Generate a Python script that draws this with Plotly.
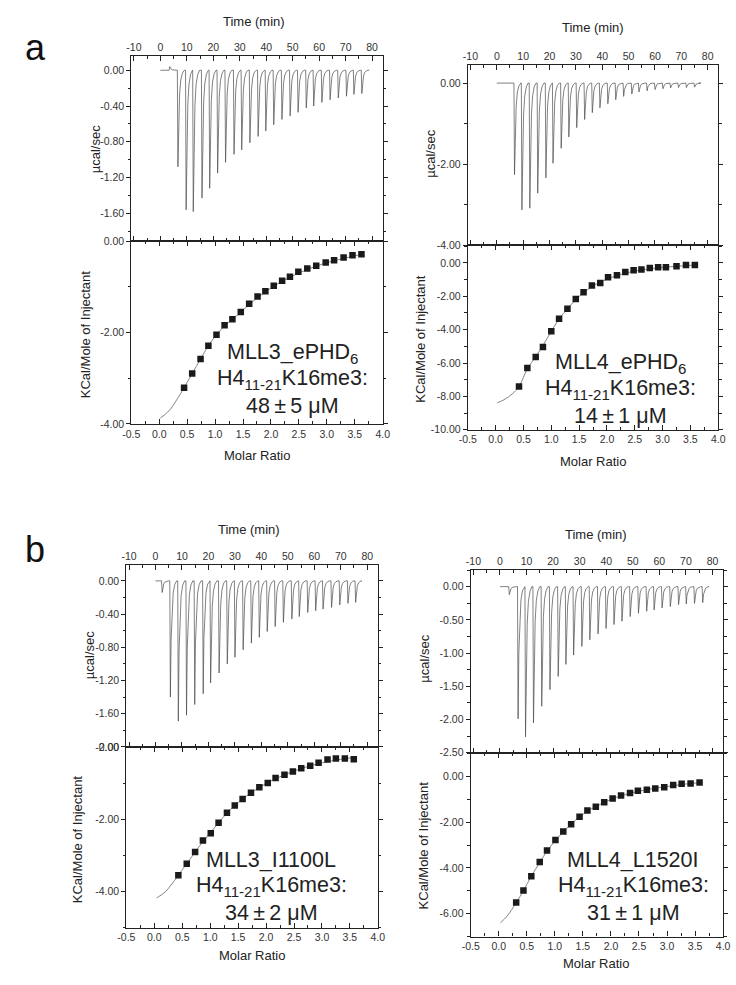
import plotly.graph_objects as go

W, H = 736, 985
FONT = "Liberation Sans, Arial, Helvetica, sans-serif"

# ---------------- data ----------------
TIME_TICKS = [-10, 0, 10, 20, 30, 40, 50, 60, 70, 80]
TIME_LABELS = [str(v) for v in TIME_TICKS]
RATIO_TICKS = [-0.5, 0.0, 0.5, 1.0, 1.5, 2.0, 2.5, 3.0, 3.5, 4.0]
RATIO_LABELS = [f"{v:.1f}" for v in RATIO_TICKS]

# Panel a, left: MLL3_ePHD6
AL_BASE = [0.0, 79.0]
AL_INJ_T = [3.3, 6.4, 9.5, 12.2, 15.5, 18.4, 21.4, 24.4, 27.6, 30.5, 33.6, 36.7, 39.6,
            42.6, 45.7, 48.8, 51.8, 54.9, 57.7, 60.8, 63.9, 67.0, 70.1, 72.9, 75.9]
AL_INJ_PEAK = [0.04, -1.08, -1.56, -1.58, -1.43, -1.32, -1.15, -1.03, -0.94, -0.89, -0.81,
               -0.74, -0.68, -0.61, -0.55, -0.51, -0.47, -0.42, -0.40, -0.36, -0.33,
               -0.31, -0.29, -0.27, -0.26]
AL_RATIO = [0.445, 0.59, 0.74, 0.88, 1.025, 1.17, 1.31, 1.46, 1.61, 1.76, 1.90, 2.05,
            2.20, 2.34, 2.49, 2.65, 2.81, 2.98, 3.13, 3.30, 3.46, 3.62]
AL_HEAT = [-3.21, -2.90, -2.58, -2.29, -2.05, -1.84, -1.71, -1.55, -1.37, -1.21, -1.10,
           -0.98, -0.87, -0.78, -0.67, -0.60, -0.54, -0.47, -0.42, -0.36, -0.31, -0.29]
AL_FIT_X = [0.02, 0.1, 0.2, 0.3, 0.445, 0.59, 0.74, 0.88, 1.025, 1.2, 1.4, 1.6, 1.8,
            2.0, 2.2, 2.5, 2.8, 3.1, 3.4, 3.62]
AL_FIT_Y = [-3.87, -3.80, -3.68, -3.50, -3.21, -2.90, -2.58, -2.29, -2.05, -1.82, -1.62,
            -1.40, -1.20, -1.03, -0.88, -0.70, -0.55, -0.44, -0.35, -0.29]

# Panel a, right: MLL4_ePHD6
AR_BASE = [0.0, 76.6]
AR_INJ_T = [6.5, 9.3, 12.3, 15.3, 18.4, 21.1, 24.2, 27.1, 30.1, 33.1, 36.0, 38.9, 41.9,
            44.9, 47.9, 51.0, 53.7, 56.8, 59.8, 62.8, 65.7, 68.7, 71.7, 74.8]
AR_INJ_PEAK = [-2.26, -3.13, -3.09, -2.72, -2.34, -1.98, -1.61, -1.33, -1.10, -0.90, -0.73,
               -0.61, -0.51, -0.41, -0.33, -0.27, -0.22, -0.19, -0.16, -0.14, -0.12,
               -0.11, -0.11, -0.10]
AR_RATIO = [0.42, 0.57, 0.72, 0.85, 1.00, 1.14, 1.29, 1.44, 1.58, 1.73, 1.88, 2.02, 2.18,
            2.33, 2.48, 2.62, 2.77, 2.92, 3.06, 3.25, 3.42, 3.58]
AR_HEAT = [-7.40, -6.30, -5.64, -5.04, -4.10, -3.34, -2.74, -2.16, -1.76, -1.36, -1.20,
           -0.86, -0.74, -0.54, -0.44, -0.40, -0.30, -0.26, -0.26, -0.20, -0.12, -0.12]
AR_FIT_X = [0.03, 0.15, 0.3, 0.42, 0.57, 0.72, 0.85, 1.0, 1.14, 1.29, 1.44, 1.58, 1.73,
            1.9, 2.1, 2.4, 2.8, 3.2, 3.58]
AR_FIT_Y = [-8.38, -8.20, -7.85, -7.40, -6.35, -5.62, -4.95, -4.10, -3.36, -2.75, -2.20,
            -1.78, -1.42, -1.12, -0.85, -0.56, -0.34, -0.21, -0.13]

# Panel b, left: MLL3_I1100L
BL_BASE = [0.0, 77.8]
BL_INJ_T = [2.3, 5.4, 8.4, 11.5, 14.6, 17.8, 20.6, 23.8, 26.9, 29.8, 32.9, 36.0, 39.0,
            42.0, 45.0, 48.1, 51.3, 54.1, 57.3, 60.3, 63.1, 66.3, 69.4, 72.5, 75.4]
BL_INJ_PEAK = [-0.14, -1.40, -1.69, -1.62, -1.49, -1.36, -1.23, -1.11, -1.00, -0.92, -0.83,
               -0.75, -0.68, -0.61, -0.55, -0.50, -0.46, -0.43, -0.38, -0.36, -0.34,
               -0.32, -0.29, -0.27, -0.26]
BL_RATIO = [0.43, 0.58, 0.73, 0.87, 1.01, 1.15, 1.30, 1.44, 1.58, 1.73, 1.88, 2.03, 2.17,
            2.33, 2.48, 2.63, 2.79, 2.94, 3.10, 3.25, 3.41, 3.57]
BL_HEAT = [-3.55, -3.23, -2.91, -2.59, -2.39, -2.10, -1.82, -1.62, -1.44, -1.27, -1.12,
           -1.00, -0.86, -0.77, -0.68, -0.59, -0.52, -0.44, -0.35, -0.32, -0.32, -0.34]
BL_FIT_X = [0.04, 0.19, 0.3, 0.43, 0.58, 0.73, 0.87, 1.01, 1.15, 1.3, 1.44, 1.58, 1.73,
            1.88, 2.03, 2.2, 2.5, 2.8, 3.1, 3.4, 3.57]
BL_FIT_Y = [-4.18, -4.02, -3.82, -3.55, -3.23, -2.91, -2.62, -2.36, -2.10, -1.83, -1.62,
            -1.44, -1.27, -1.12, -0.99, -0.86, -0.67, -0.52, -0.41, -0.33, -0.30]

# Panel b, right: MLL4_L1520I
BR_BASE = [0.0, 78.5]
BR_INJ_T = [3.3, 6.6, 9.4, 12.4, 15.5, 18.6, 21.7, 24.6, 27.5, 30.6, 33.6, 36.7, 39.7,
            42.7, 45.7, 48.8, 51.9, 55.0, 57.8, 60.8, 63.9, 67.0, 69.9, 73.0, 76.1]
BR_INJ_PEAK = [-0.12, -1.99, -2.26, -2.05, -1.80, -1.55, -1.35, -1.17, -1.03, -0.90, -0.80,
               -0.71, -0.63, -0.57, -0.52, -0.45, -0.40, -0.37, -0.35, -0.32, -0.30,
               -0.27, -0.26, -0.25, -0.24]
BR_RATIO = [0.31, 0.44, 0.58, 0.73, 0.86, 1.01, 1.15, 1.29, 1.44, 1.58, 1.73, 1.88, 2.03,
            2.18, 2.34, 2.48, 2.64, 2.79, 2.95, 3.11, 3.26, 3.42, 3.58]
BR_HEAT = [-5.51, -4.99, -4.36, -3.74, -3.24, -2.78, -2.40, -2.09, -1.76, -1.48, -1.32,
           -1.12, -0.96, -0.83, -0.72, -0.62, -0.58, -0.52, -0.47, -0.37, -0.32, -0.30,
           -0.26]
BR_FIT_X = [0.03, 0.15, 0.31, 0.44, 0.58, 0.73, 0.86, 1.01, 1.15, 1.29, 1.44, 1.58, 1.73,
            1.88, 2.03, 2.2, 2.5, 2.8, 3.1, 3.4, 3.58]
BR_FIT_Y = [-6.40, -6.10, -5.52, -4.99, -4.36, -3.76, -3.26, -2.80, -2.42, -2.08, -1.76,
            -1.51, -1.31, -1.13, -0.97, -0.83, -0.64, -0.51, -0.40, -0.31, -0.27]

# y-axis ranges / ticks
AL_TOP_RANGE, AL_TOP_TICKS = [-1.91, 0.155], [0.0, -0.4, -0.8, -1.2, -1.6]
AL_BOT_RANGE, AL_BOT_TICKS = [-4.0, 0.0], [0.0, -2.0, -4.0]
AR_TOP_RANGE, AR_TOP_TICKS = [-4.0, 0.44], [0.0, -2.0, -4.0]
AR_BOT_RANGE, AR_BOT_TICKS = [-10.0, 1.07], [0.0, -2.0, -4.0, -6.0, -8.0, -10.0]
BL_TOP_RANGE, BL_TOP_TICKS = [-2.0, 0.19], [0.0, -0.4, -0.8, -1.2, -1.6, -2.0]
BL_BOT_RANGE, BL_BOT_TICKS = [-5.0, 0.0], [0.0, -2.0, -4.0]
BR_TOP_RANGE, BR_TOP_TICKS = [-2.5, 0.25], [0.0, -0.5, -1.0, -1.5, -2.0, -2.5]
BR_BOT_RANGE, BR_BOT_TICKS = [-7.0, 1.04], [0.0, -2.0, -4.0, -6.0]

LABELS = {
    "al": ["MLL3_ePHD<sub>6</sub>", "H4<sub>11-21</sub>K16me3:", "48\u2009±\u20095 μM"],
    "ar": ["MLL4_ePHD<sub>6</sub>", "H4<sub>11-21</sub>K16me3:", "14\u2009±\u20091 μM"],
    "bl": ["MLL3_I1100L", "H4<sub>11-21</sub>K16me3:", "34\u2009±\u20092 μM"],
    "br": ["MLL4_L1520I", "H4<sub>11-21</sub>K16me3:", "31\u2009±\u20091 μM"],
}

# ---------------- layout geometry (pixels) ----------------
PANELS = [
    dict(key="al", box=(125, 382, 51, 238, 423), base=AL_BASE, t=AL_INJ_T, p=AL_INJ_PEAK,
         rx=AL_RATIO, ry=AL_HEAT, fx=AL_FIT_X, fy=AL_FIT_Y,
         top=(AL_TOP_RANGE, AL_TOP_TICKS, 0.2), bot=(AL_BOT_RANGE, AL_BOT_TICKS, 1.0),
         time_title=(250, 16), ucal=(88, 145), kcal=(79, 332), molar=(253, 455),
         text=(290, 352)),
    dict(key="ar", box=(469, 725, 60, 242, 429), base=AR_BASE, t=AR_INJ_T, p=AR_INJ_PEAK,
         rx=AR_RATIO, ry=AR_HEAT, fx=AR_FIT_X, fy=AR_FIT_Y,
         top=(AR_TOP_RANGE, AR_TOP_TICKS, 1.0), bot=(AR_BOT_RANGE, AR_BOT_TICKS, 1.0),
         time_title=(597, 22), ucal=(431, 150), kcal=(421, 337), molar=(597, 461),
         text=(625, 362)),
    dict(key="bl", box=(120, 377, 566, 750, 933), base=BL_BASE, t=BL_INJ_T, p=BL_INJ_PEAK,
         rx=BL_RATIO, ry=BL_HEAT, fx=BL_FIT_X, fy=BL_FIT_Y,
         top=(BL_TOP_RANGE, BL_TOP_TICKS, 0.2), bot=(BL_BOT_RANGE, BL_BOT_TICKS, 1.0),
         time_title=(245, 530), ucal=(83, 657), kcal=(70, 843), molar=(248, 961),
         text=(268, 865)),
    dict(key="br", box=(472, 730, 571, 756, 942), base=BR_BASE, t=BR_INJ_T, p=BR_INJ_PEAK,
         rx=BR_RATIO, ry=BR_HEAT, fx=BR_FIT_X, fy=BR_FIT_Y,
         top=(BR_TOP_RANGE, BR_TOP_TICKS, 0.25), bot=(BR_BOT_RANGE, BR_BOT_TICKS, 1.0),
         time_title=(600, 535), ucal=(425, 661), kcal=(424, 850), molar=(600, 969),
         text=(638, 865)),
]

# spike outline (time offset, fraction of peak) used to draw each injection peak
SPIKE = [(0.0, 0.0), (0.22, 1.0), (0.5, 0.5), (0.85, 0.25), (1.3, 0.1), (1.9, 0.03), (2.6, 0.0)]

TIME_RANGE = [-11, 84]
RATIO_RANGE = [-0.5, 4.0]


def px_x(x):
    return x / W


def px_y(y):
    return 1 - y / H


fig = go.Figure()
layout = dict(
    width=W, height=H, margin=dict(l=0, r=0, t=0, b=0),
    paper_bgcolor="white", plot_bgcolor="white", showlegend=False,
    font=dict(family=FONT, size=10.5, color="#333333"),
)
annotations = []

common_axis = dict(showgrid=False, zeroline=False, showline=True, linecolor="#222222",
                   linewidth=1.2, tickcolor="#222222", tickfont=dict(size=10.5, color="#333333"))

for i, P in enumerate(PANELS):
    x0, x1, yt, ym, yb = P["box"]
    ti, bi = 2 * i + 1, 2 * i + 2
    # thermogram trace
    xs, ys = [P["base"][0]], [0.0]
    for t, d in zip(P["t"], P["p"]):
        for dt, f in SPIKE:
            xs.append(t + dt)
            ys.append(d * f)
    xs.append(P["base"][1])
    ys.append(0.0)
    fig.add_trace(go.Scatter(x=xs, y=ys, mode="lines", xaxis=f"x{ti}", yaxis=f"y{ti}",
                             line=dict(color="#4a4a4a", width=0.7), hoverinfo="skip"))
    # fit
    fig.add_trace(go.Scatter(x=P["fx"], y=P["fy"], mode="lines", xaxis=f"x{bi}", yaxis=f"y{bi}",
                             line=dict(color="#777777", width=0.9, shape="spline"),
                             hoverinfo="skip"))
    # data points
    fig.add_trace(go.Scatter(x=P["rx"], y=P["ry"], mode="markers", xaxis=f"x{bi}", yaxis=f"y{bi}",
                             marker=dict(symbol="square", size=6.5, color="#1a1a1a"),
                             hoverinfo="skip"))

    trange, tticks, tminor = P["top"]
    brange, bticks, bminor = P["bot"]
    layout[f"xaxis{ti}"] = dict(common_axis, domain=[px_x(x0), px_x(x1)], anchor=f"y{ti}",
                                side="top", range=TIME_RANGE, tickmode="array",
                                tickvals=TIME_TICKS, ticktext=TIME_LABELS, ticks="inside",
                                ticklen=5, mirror="ticks",
                                minor=dict(dtick=5, tick0=0, ticklen=3, ticks="inside"))
    layout[f"yaxis{ti}"] = dict(common_axis, domain=[px_y(ym), px_y(yt)], anchor=f"x{ti}",
                                range=trange, tickmode="array", tickvals=tticks,
                                ticktext=[f"{v:.2f}" for v in tticks], ticks="outside",
                                ticklen=4, mirror="ticks",
                                minor=dict(dtick=tminor, tick0=0, ticklen=2.5, ticks="outside"))
    layout[f"xaxis{bi}"] = dict(common_axis, domain=[px_x(x0), px_x(x1)], anchor=f"y{bi}",
                                side="bottom", range=RATIO_RANGE, tickmode="array",
                                tickvals=RATIO_TICKS, ticktext=RATIO_LABELS, ticks="inside",
                                ticklen=5, mirror="ticks",
                                minor=dict(dtick=0.25, tick0=0, ticklen=3, ticks="inside"))
    layout[f"yaxis{bi}"] = dict(common_axis, domain=[px_y(yb), px_y(ym)], anchor=f"x{bi}",
                                range=brange, tickmode="array", tickvals=bticks,
                                ticktext=[f"{v:.2f}" for v in bticks], ticks="outside",
                                ticklen=4, mirror="ticks",
                                minor=dict(dtick=bminor, tick0=0, ticklen=2.5, ticks="outside"))

    def ann(text, pos, size=13, angle=0):
        annotations.append(dict(text=text, x=px_x(pos[0]), y=px_y(pos[1]), xref="paper",
                                yref="paper", showarrow=False, textangle=angle,
                                xanchor="center", yanchor="middle",
                                font=dict(family=FONT, size=size, color="#222222")))

    ann("Time (min)", P["time_title"])
    ann("µcal/sec", P["ucal"], angle=-90)
    ann("KCal/Mole of Injectant", P["kcal"], angle=-90)
    ann("Molar Ratio", P["molar"])
    tx, ty = P["text"]
    for k, line in enumerate(LABELS[P["key"]]):
        ann(line, (tx, ty + 26.5 * k), size=21.5)

annotations.append(dict(text="a", x=px_x(27), y=px_y(42), xref="paper", yref="paper",
                        showarrow=False, xanchor="center", yanchor="middle",
                        font=dict(family=FONT, size=36, color="#111111")))
annotations.append(dict(text="b", x=px_x(27), y=px_y(550), xref="paper", yref="paper",
                        showarrow=False, xanchor="center", yanchor="middle",
                        font=dict(family=FONT, size=36, color="#111111")))
layout["annotations"] = annotations
fig.update_layout(**layout)
fig.write_html("out.html", config={"displayModeBar": False},
               post_script="document.body.style.margin='0';document.body.style.overflow='hidden';")
